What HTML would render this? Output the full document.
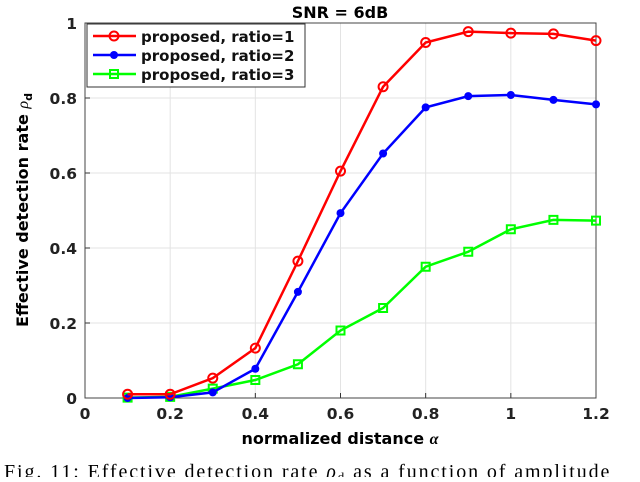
<!DOCTYPE html>
<html><head><meta charset="utf-8"><style>
body{margin:0;background:#fff;width:640px;height:477px;overflow:hidden}
svg text{font-family:"DejaVu Sans","Liberation Sans",sans-serif;font-weight:bold}
</style></head><body>
<svg id="chart" width="640" height="477" xmlns="http://www.w3.org/2000/svg">
<g id="grid"></g>
<g id="axes"></g>
<g id="series"></g>
<text x="340" y="18" text-anchor="middle" font-size="16">SNR = 6dB</text>
<text x="340" y="444" text-anchor="middle" font-size="16">normalized distance <tspan font-style="italic" font-family="Liberation Serif,serif">α</tspan></text>
<text transform="translate(28,210) rotate(-90)" text-anchor="middle" font-size="16">Effective detection rate <tspan font-style="italic" font-family="Liberation Serif,serif" font-weight="normal">ρ</tspan><tspan font-size="11" dy="4">d</tspan></text>
<g>
<rect x="87" y="24" width="218" height="63" fill="#fff" stroke="#333" stroke-width="1"/>
<g id="legend-items"></g>
</g>
<text x="4" y="478" font-size="20" style="font-family:'Liberation Serif',serif;font-weight:normal;letter-spacing:1.9px">Fig. 11: Effective detection rate <tspan font-style="italic">ρ</tspan><tspan font-size="13" dy="3">d</tspan><tspan dy="-3"> as a function of amplitude</tspan></text>
</svg>
<script>
const xVals=[0.1,0.2,0.3,0.4,0.5,0.6,0.7,0.8,0.9,1.0,1.1,1.2];
const ratio1=[0.01,0.01,0.053,0.133,0.365,0.605,0.83,0.948,0.977,0.973,0.971,0.953];
const ratio2=[0,0.002,0.015,0.078,0.283,0.493,0.652,0.775,0.805,0.808,0.795,0.783];
const ratio3=[0.001,0.003,0.025,0.048,0.09,0.18,0.24,0.35,0.39,0.45,0.475,0.473];
const xTicks=[0,0.2,0.4,0.6,0.8,1,1.2];
const yTicks=[0,0.2,0.4,0.6,0.8,1];
const labels=["proposed, ratio=1","proposed, ratio=2","proposed, ratio=3"];
const NS="http://www.w3.org/2000/svg";
const X0=85,X1=596,Y0=398,Y1=23;
const sx=v=>X0+(v-0)/1.2*(X1-X0);
const sy=v=>Y0-v*(Y0-Y1);
function mk(t,a,p){const e=document.createElementNS(NS,t);for(const k in a)e.setAttribute(k,a[k]);p.appendChild(e);return e;}
const grid=document.getElementById('grid'),axes=document.getElementById('axes'),ser=document.getElementById('series');
xTicks.forEach(t=>{
 const l=mk('line',{x1:sx(t),x2:sx(t),y1:Y0,y2:Y1,stroke:'#e3e3e3','stroke-width':1},grid);
 
 mk('line',{x1:sx(t),x2:sx(t),y1:Y0,y2:Y0-5,stroke:'#333'},axes);
 const tx=mk('text',{x:sx(t),y:Y0+21,'text-anchor':'middle','font-size':15.5,fill:'#222'},axes);tx.textContent=t;
 
});
yTicks.forEach(t=>{
 const l=mk('line',{x1:X0,x2:X1,y1:sy(t),y2:sy(t),stroke:'#e3e3e3','stroke-width':1},grid);
 
 mk('line',{x1:X0,x2:X0+5,y1:sy(t),y2:sy(t),stroke:'#333'},axes);
 const tx=mk('text',{x:X0-8,y:sy(t)+6,'text-anchor':'end','font-size':15.5,fill:'#222'},axes);tx.textContent=t;
 
});
mk('rect',{x:X0,y:Y1,width:X1-X0,height:Y0-Y1,fill:'none',stroke:'#444','stroke-width':1},axes);
const series=[[ratio3,'#00ff00','square'],[ratio2,'#0000ff','dot'],[ratio1,'#ff0000','circle']];
function marker(type,x,y,c,p){
 let m;
 if(type==='circle')m=mk('circle',{cx:x,cy:y,r:4.5,fill:'none',stroke:c,'stroke-width':2},p);
 else if(type==='dot')m=mk('circle',{cx:x,cy:y,r:4,fill:c},p);
 else m=mk('rect',{x:x-4,y:y-4,width:8,height:8,fill:'none',stroke:c,'stroke-width':2},p);
 return m;
}
series.forEach(([vals,c,type])=>{
 const pts=vals.map((v,i)=>sx(xVals[i])+','+sy(v)).join(' ');
 const pl=mk('polyline',{points:pts,fill:'none',stroke:c,'stroke-width':2.5},ser);
 
 vals.forEach((v,i)=>{const m=marker(type,sx(xVals[i]),sy(v),c,ser);
  });
});
const li=document.getElementById('legend-items');
[['#ff0000','circle'],['#0000ff','dot'],['#00ff00','square']].forEach(([c,type],i)=>{
 const y=36+i*19;
 mk('line',{x1:93,x2:136,y1:y,y2:y,stroke:c,'stroke-width':2.5},li);
 marker(type,114,y,c,li);
 const t=mk('text',{x:141,y:y+6,'font-size':15,fill:'#111'},li);t.textContent=labels[i];
 
});
</script>
</body></html>
